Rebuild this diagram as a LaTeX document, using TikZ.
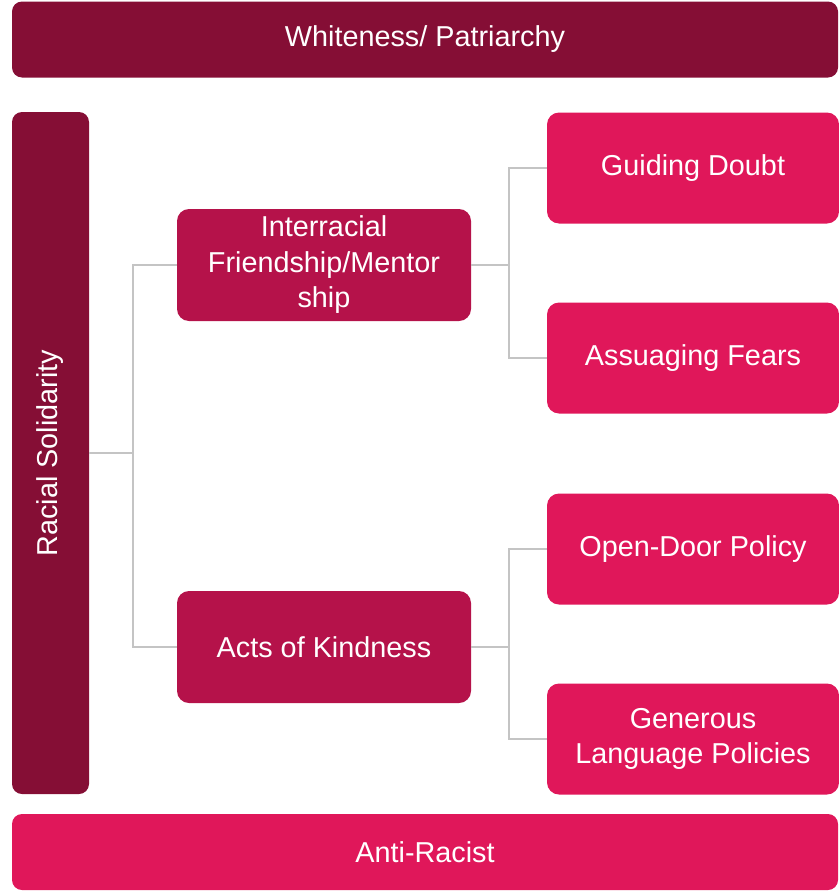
\documentclass[tikz,border=0pt]{standalone}
\usepackage{fontspec}
\setmainfont{Liberation Sans}
\definecolor{cdark}{HTML}{850E35}
\definecolor{cmid}{HTML}{B5124A}
\definecolor{cbright}{HTML}{E0175A}
\definecolor{cline}{HTML}{C4C4C4}
\begin{document}
\begin{tikzpicture}[x=1pt,y=-1pt,
  box/.style={rounded corners=12pt, text=white, align=center, inner sep=0pt,
    font=\fontsize{28.8}{35.5}\selectfont},
  conn/.style={draw=cline, line width=1.6pt}]
\useasboundingbox (0,0) rectangle (838,894);
% boxes
\node[box, fill=cdark, minimum width=826pt, minimum height=76pt, rounded corners=10pt] (top) at (425,39.5) {Whiteness/ Patriarchy};
\node[box, fill=cbright, minimum width=826pt, minimum height=76pt, rounded corners=10pt] (bot) at (425,852) {Anti-Racist};
\node[box, fill=cdark, minimum width=77pt, minimum height=682pt, rounded corners=10pt] (rs) at (50.5,453) {};
\node[text=white, font=\fontsize{28.8}{35.5}\selectfont, rotate=90] (rst) at (rs.center) {Racial Solidarity};
\node[box, fill=cmid, minimum width=294pt, minimum height=112pt] (ifm) at (324,265) {Interracial\\Friendship/Mentor\\ship};
\node[box, fill=cmid, minimum width=294pt, minimum height=112pt] (aok) at (324,647) {Acts of Kindness};
\node[box, fill=cbright, minimum width=292pt, minimum height=111pt] (gd) at (693,168) {Guiding Doubt};
\node[box, fill=cbright, minimum width=292pt, minimum height=111pt] (af) at (693,358) {Assuaging Fears};
\node[box, fill=cbright, minimum width=292pt, minimum height=111pt] (od) at (693,549) {Open-Door Policy};
\node[box, fill=cbright, minimum width=292pt, minimum height=111pt] (gl) at (693,739) {Generous\\Language Policies};
% connectors
\coordinate (j1) at (133,453);
\coordinate (j2) at (509,265);
\coordinate (j3) at (509,647);
\draw[conn] (rs.east) -- (j1);
\draw[conn] (j1) |- (ifm.west);
\draw[conn] (j1) |- (aok.west);
\draw[conn] (ifm.east) -- (j2);
\draw[conn] (j2) |- (gd.west);
\draw[conn] (j2) |- (af.west);
\draw[conn] (aok.east) -- (j3);
\draw[conn] (j3) |- (od.west);
\draw[conn] (j3) |- (gl.west);
\end{tikzpicture}
\end{document}
